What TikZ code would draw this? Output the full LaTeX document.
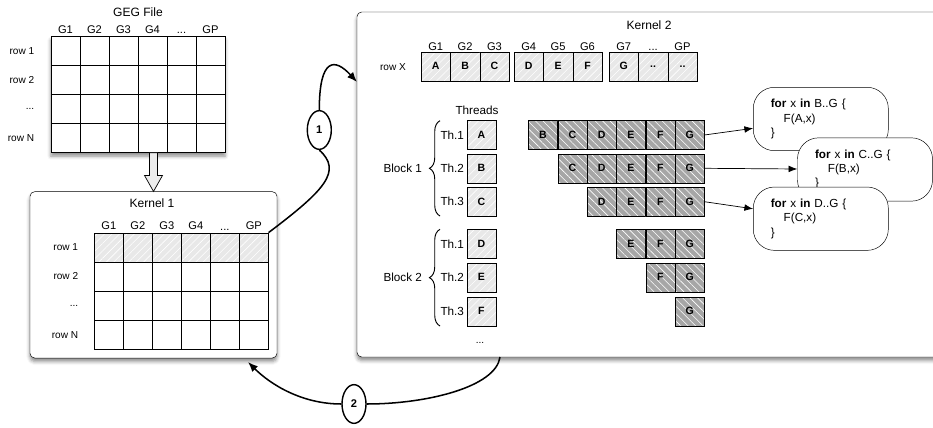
\documentclass[tikz,border=0pt]{standalone}
\usepackage{fontspec}
\setmainfont{Liberation Sans}
\usetikzlibrary{arrows.meta, positioning, shadows, shadows.blur, patterns.meta, shapes.geometric, decorations.pathreplacing}

\newcommand{\skipdots}{...}

\tikzset{
    frame/.style={draw, fill=white, rounded corners=4pt,
        blur shadow={shadow xshift=0pt, shadow yshift=-3pt, shadow blur radius=3pt, shadow opacity=45}},
    cell/.style={draw, minimum width=0.87cm, minimum height=0.87cm, inner sep=0pt,
        font=\bfseries\fontsize{9}{10}\selectfont},
    lightcell/.style={cell, preaction={fill=gray!18},
        pattern={Lines[angle=45, distance=4.5pt, line width=0.5pt]}, pattern color=white},
    darkcell/.style={cell, preaction={fill=gray!70},
        pattern={Lines[angle=-45, distance=4.5pt, line width=0.5pt]}, pattern color=white},
    bubble/.style={draw, fill=white, rectangle, rounded corners=18pt,
        minimum width=4.05cm, minimum height=1.9cm, text width=3cm, align=left,
        font=\fontsize{10}{12.3}\selectfont},
    numb/.style={draw, ellipse, line width=1.2pt, fill=white, minimum width=0.72cm,
        minimum height=1.16cm, inner sep=0pt, font=\bfseries\fontsize{9.5}{11}\selectfont},
    brace/.style={decorate, decoration={brace, amplitude=9pt}, line width=0.8pt}
}

\begin{document}
\begin{tikzpicture}[
    x=0.03cm, y=-0.03cm,
    every node/.style={inner sep=2pt},
    title/.style={font=\fontsize{10.3}{12}\selectfont},
    hdr/.style={font=\fontsize{9.5}{11}\selectfont},
    rowlab/.style={font=\fontsize{8.6}{10}\selectfont},
    sublab/.style={font=\fontsize{10}{12}\selectfont},
    flowline/.style={line width=1.3pt},
    flowtip/.style={-{Latex[length=3mm, width=2.4mm]}},
    ptr/.style={-{Latex[length=2.6mm, width=2mm]}, line width=0.6pt}
]
\useasboundingbox (0,0) rectangle (933,428);
\clip (0,0) rectangle (933,428);

% GEG file
\node[draw, fill=white, minimum width=5.22cm, minimum height=3.48cm,
    blur shadow={shadow xshift=0pt, shadow yshift=-3pt, shadow blur radius=3pt, shadow opacity=45}]
    (geg) at (138,94.7) {};
\node[title] (gegtitle) at (138,12) {GEG File};
\foreach \r in {1,...,4}
    \foreach \c in {1,...,6}
        \node[cell] (geg-\r-\c) at ({51+29*\c-14.5},{36.7+29*\r-14.5}) {};
\foreach \h [count=\c] in {G1,G2,G3,G4,\skipdots,GP}
    \node[hdr, above=0pt of geg-1-\c] {\h};
\foreach \h [count=\r] in {row 1,row 2,\skipdots,row N}
    \node[rowlab, left=4.2mm of geg-\r-1] {\h};

% Kernel 1
\node[frame, minimum width=7.41cm, minimum height=4.99cm] (kernel1) at (153.5,274.85) {};
\node[title] (k1title) at (152,203) {Kernel 1};
\foreach \r in {1,...,4}
    \foreach \c in {1,...,6} {
        \ifnum\r=1
            \node[lightcell] (k1-\r-\c) at ({94.3+29*\c-14.5},{232.7+29.15*\r-14.5}) {};
        \else
            \node[cell] (k1-\r-\c) at ({94.3+29*\c-14.5},{232.7+29.15*\r-14.5}) {};
        \fi
    }
\foreach \h [count=\c] in {G1,G2,G3,G4,\skipdots,GP}
    \node[hdr, above=0pt of k1-1-\c] {\h};
\foreach \h [count=\r] in {row 1,row 2,\skipdots,row N}
    \node[rowlab, left=4mm of k1-\r-1] {\h};

% hollow arrow from the file to kernel 1
\draw[fill=gray!15, line width=0.6pt] (kernel1.north) -- ++(-9,-16) -- ++(5,0) -- ++(0,-22.7)
    -- ++(8,0) -- ++(0,22.7) -- ++(5,0) -- cycle;

% Kernel 2
\node[frame, minimum width=18.09cm, minimum height=10.35cm] (kernel2) at (658.5,184.5) {};
\node[title] (k2title) at (649,25) {Kernel 2};
\node[rowlab] (rowx) at (393,67) {row X};
\foreach \lab/\hd/\xx [count=\i] in {A/G1/435.7, B/G2/465.1, C/G3/494.5, D/G4/528.7,
        E/G5/558.1, F/G6/587.5, G/G7/623.7, ../\skipdots/653.1, ../GP/682.5} {
    \node[lightcell, minimum width=0.88cm] (x-\i) at (\xx,66.3) {\lab};
    \node[hdr, above=-1pt of x-\i] {\hd};
}

% threads
\node[sublab] (threads) at (477,110) {Threads};
\foreach \lab/\yy/\tn in {A/135/1, B/168.3/2, C/201.7/3, D/244/1, E/277.3/2, F/311.3/3} {
    \node[lightcell] (t-\lab) at (481.3,\yy) {\lab};
    \node[sublab, left=0pt of t-\lab] {Th.\tn};
}
\draw[brace] (440,216) -- node[sublab, left=13pt] {Block 1} (440,120.7);
\draw[brace] (440,326) -- node[sublab, left=13pt] {Block 2} (440,229.3);
\node[rowlab] (more) at (480,343) {...};

% work of each thread
\foreach \yy [count=\r from 0] in {135,168.3,201.7,244,277.3,311.3}
    \foreach \lab [count=\k from 0] in {B,C,D,E,F,G} {
        \ifnum\k<\r\else
            \node[darkcell] (d-\r-\k) at ({543+29.33*\k},\yy) {\lab};
        \fi
    }

% loops
\node[bubble] (b1) at (820.8,119) {\textbf{for} x \textbf{in} B..G \{\\\hspace*{1.1em}F(A,x)\\\}};
\node[bubble] (b2) at (865,169.5) {\textbf{for} x \textbf{in} C..G \{\\\hspace*{1.1em}F(B,x)\\\}};
\node[bubble] (b3) at (820.8,218.7) {\textbf{for} x \textbf{in} D..G \{\\\hspace*{1.1em}F(C,x)\\\}};
\draw[ptr] (d-0-5.east) -- (b1);
\draw[ptr] (d-1-5.east) -- (b2);
\draw[ptr] (d-2-5.east) -- (b3);

% steps 1 and 2
\node[numb] (one) at (319.3,130) {1};
\node[numb] (two) at (354,404) {2};
\coordinate (in1) at (357,82);
\coordinate (out2) at (500,357);
\coordinate (in2) at (248,362);
\draw[flowline] (k1-1-6.north east) .. controls +(57,-43) and +(23,21) .. (one.south);
\draw[flowline, flowtip] (one.north) .. controls +(0,-53) and +(-22,-24) .. (in1);
\draw[flowline] (out2) .. controls +(-4,30) and +(60,0) .. (two.east);
\draw[flowline, flowtip] (two.west) .. controls +(-40,0) and +(22,22) .. (in2);

\end{tikzpicture}
\end{document}
